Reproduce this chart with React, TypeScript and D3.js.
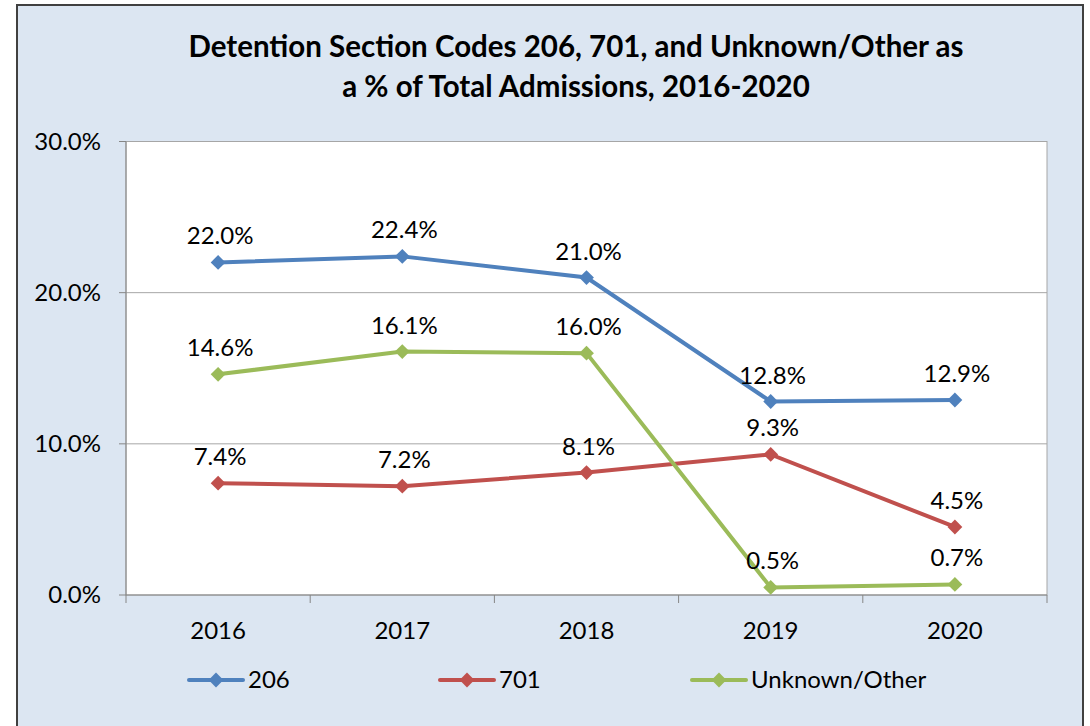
import React from 'react';
import { scaleLinear, scaleBand, line, symbol, symbolDiamond2 } from 'd3';

const years = ['2016', '2017', '2018', '2019', '2020'];
const code206 = [22.0, 22.4, 21.0, 12.8, 12.9];
const code701 = [7.4, 7.2, 8.1, 9.3, 4.5];
const unknownOther = [14.6, 16.1, 16.0, 0.5, 0.7];
const yTicks = [0, 10, 20, 30];
const seriesNames = ['206', '701', 'Unknown/Other'];

const colors = ['#4F81BD', '#C0504D', '#9BBB59'];
const font = 'Lato, "Open Sans", sans-serif';

const App = () => {
  const width = 1090, height = 726;
  const left = 126, right = 1047, top = 141.5, bottom = 595;

  const x = scaleBand().domain(years).range([left, right]);
  const y = scaleLinear().domain([0, 30]).range([bottom, top]);
  const cx = (d: string) => (x(d) as number) + x.bandwidth() / 2;

  const series = [code206, code701, unknownOther];
  const lineF = line<number>()
    .x((d, i) => cx(years[i]))
    .y(d => y(d));
  const diamond = symbol().type(symbolDiamond2).size(140)();

  const legendX = [189, 440, 692];

  return (
    <svg width={width} height={height} style={{ position: 'absolute', left: 0, top: 0 }} fontFamily={font}>
      <rect x={17} y={5} width={1066} height={740} fill='#DCE6F2' stroke='#404040' strokeWidth={2} />
      <text x={576} y={57} textAnchor='middle' fontSize={29.5} fontWeight='bold'>Detention Section Codes 206, 701, and Unknown/Other as</text>
      <text x={576} y={97} textAnchor='middle' fontSize={29.5} fontWeight='bold'>a % of Total Admissions, 2016-2020</text>

      <rect x={left} y={top} width={right - left} height={bottom - top} fill='#fff' stroke='#A6A6A6' />
      {yTicks.map(t => (
        <g key={t}>
          {t > 0 && <line x1={left} x2={right} y1={y(t)} y2={y(t)} stroke='#A6A6A6' />}
          <line x1={left - 7} x2={left} y1={y(t)} y2={y(t)} stroke='#868686' />
          <text x={left - 25} y={y(t) + 8} textAnchor='end' fontSize={24}>{t.toFixed(1)}%</text>
        </g>
      ))}
      <line x1={left} x2={left} y1={top} y2={bottom} stroke='#868686' />
      <line x1={left} x2={right} y1={bottom} y2={bottom} stroke='#868686' />
      {years.map((yr, i) => (
        <g key={yr}>
          <line x1={x(yr)} x2={x(yr)} y1={bottom} y2={bottom + 8} stroke='#868686' />
          <text x={cx(yr)} y={639} textAnchor='middle' fontSize={24}>{yr}</text>
        </g>
      ))}
      <line x1={right} x2={right} y1={bottom} y2={bottom + 8} stroke='#868686' />

      {series.map((s, si) => (
        <g key={si}>
          <path d={lineF(s) as string} fill='none' stroke={colors[si]} strokeWidth={4} />
          {s.map((v, i) => (
            <path key={i} d={diamond as string} transform={`translate(${cx(years[i])},${y(v)})`} fill={colors[si]} />
          ))}
          {s.map((v, i) => (
            <text key={'l' + i} x={cx(years[i]) + 2} y={y(v) - 18} textAnchor='middle' fontSize={24}>{v.toFixed(1)}%</text>
          ))}
        </g>
      ))}

      {seriesNames.map((n, i) => (
        <g key={n} transform={`translate(${legendX[i]},680)`}>
          <line x1={0} x2={54} y1={0} y2={0} stroke={colors[i]} strokeWidth={4} strokeLinecap='round' />
          <path d={diamond as string} transform='translate(27,0)' fill={colors[i]} />
          <text x={59} y={8} fontSize={24}>{n}</text>
        </g>
      ))}
    </svg>
  );
};

export default App;
